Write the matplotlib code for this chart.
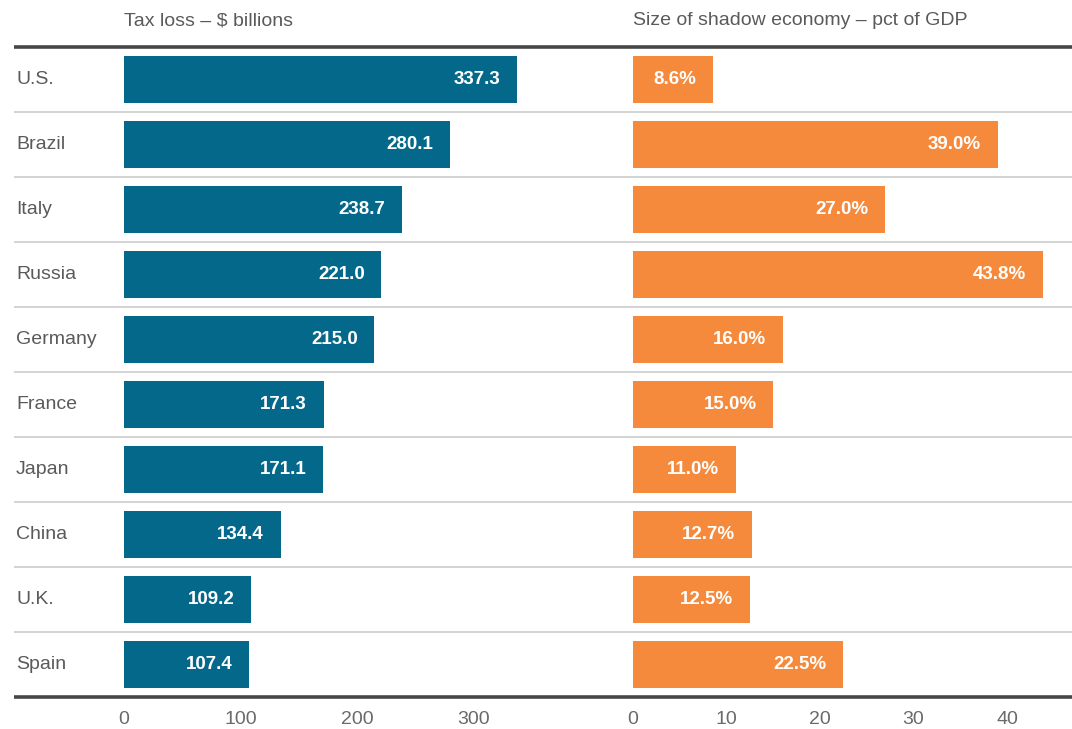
import numpy as np
import matplotlib
matplotlib.use("Agg")
import matplotlib.pyplot as plt
from matplotlib.lines import Line2D

# ----------
# > Data <
# ----------
countries = ["U.S.", "Brazil", "Italy", "Russia", "Germany",
             "France", "Japan", "China", "U.K.", "Spain"]
tax_loss = [337.3, 280.1, 238.7, 221.0, 215.0, 171.3, 171.1, 134.4, 109.2, 107.4]
shadow_pct = [8.6, 39.0, 27.0, 43.8, 16.0, 15.0, 11.0, 12.7, 12.5, 22.5]
left_ticks = [0, 100, 200, 300]
right_ticks = [0, 10, 20, 30, 40]
left_title = "Tax loss \u2013 $ billions"
right_title = "Size of shadow economy \u2013 pct of GDP"

# color palette
TEAL = "#04688a"
ORANGE = "#f68a3c"
TEXT_GRAY = "#5a5a5a"
TICK_GRAY = "#6a6a6a"
SEP_GRAY = "#cccccc"
RULE_GRAY = "#474747"

plt.rcParams["font.family"] = ["Liberation Sans", "DejaVu Sans"]

W, H = 1072, 729
fig = plt.figure(figsize=(W / 100, H / 100), dpi=100)

bottom = (H - 697) / H
height = 650 / H
split = 600
ax_l = fig.add_axes([14 / W, bottom, (split - 14) / W, height])
ax_r = fig.add_axes([split / W, bottom, (W - split) / W, height])

y = np.arange(len(countries))


def style_axis(ax, xlim, ticks, tick_labels):
    ax.set_xlim(*xlim)
    ax.set_ylim(len(countries) - 0.5, -0.5)
    for s in ax.spines.values():
        s.set_visible(False)
    ax.set_yticks([])
    ax.set_xticks(ticks)
    ax.set_xticklabels(tick_labels)
    ax.tick_params(axis="x", length=0, pad=10, labelsize=14, labelcolor=TICK_GRAY)
    for k in range(len(countries) - 1):
        ax.axhline(k + 0.5, color=SEP_GRAY, linewidth=1.2, zorder=1)


# left panel: 0 at x=124px, 1.165 px per unit
l_scale = 1.165
style_axis(ax_l, ((14 - 124) / l_scale, (split - 124) / l_scale),
           left_ticks, [str(t) for t in left_ticks])
ax_l.barh(y, tax_loss, height=0.71, color=TEAL, zorder=2)
for yi, v in zip(y, tax_loss):
    ax_l.annotate(f"{v:.1f}", xy=(v, yi), xytext=(-12, 0), textcoords="offset points",
                  ha="right", va="center", color="white", fontsize=13.5, fontweight="bold")

# right panel: 0 at x=633px, 9.35 px per unit
r_scale = 9.35
style_axis(ax_r, ((split - 633) / r_scale, (W - 633) / r_scale),
           right_ticks, [str(t) for t in right_ticks])
ax_r.barh(y, shadow_pct, height=0.71, color=ORANGE, zorder=2)
for yi, v in zip(y, shadow_pct):
    ax_r.annotate(f"{v:.1f}%", xy=(v, yi), xytext=(-12, 0), textcoords="offset points",
                  ha="right", va="center", color="white", fontsize=13.5, fontweight="bold")

# thick top / bottom rules spanning both panels
for yy in (bottom, bottom + height):
    fig.add_artist(Line2D([14 / W, 1.0], [yy, yy], transform=fig.transFigure,
                          color=RULE_GRAY, linewidth=2.6, solid_capstyle="butt"))

# category labels
for yi, name in zip(y, countries):
    ax_l.annotate(name, xy=(0, yi), xycoords=("axes fraction", "data"),
                  xytext=(1.5, 0), textcoords="offset points",
                  ha="left", va="center", color=TEXT_GRAY, fontsize=14)

# panel headers
ax_l.annotate(left_title, xy=(0, 1), xycoords=("data", "axes fraction"),
              xytext=(0, 19), textcoords="offset points",
              ha="left", va="center", color=TEXT_GRAY, fontsize=14)
ax_r.annotate(right_title, xy=(0, 1), xycoords=("data", "axes fraction"),
              xytext=(0, 19), textcoords="offset points",
              ha="left", va="center", color=TEXT_GRAY, fontsize=14)

fig.savefig("out.png", dpi=100)
plt.close(fig)
